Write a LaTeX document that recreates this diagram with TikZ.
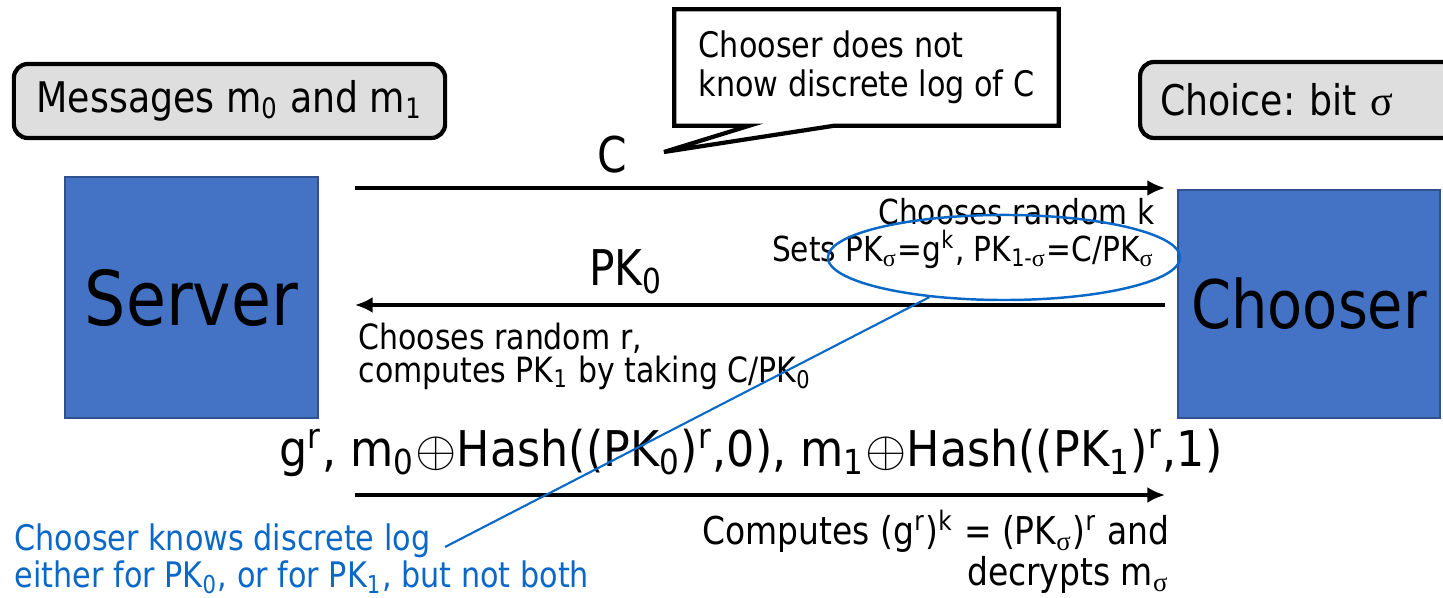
\documentclass[tikz,border=0pt]{standalone}
\usepackage{graphicx}
\usepackage{fontspec}
\setmainfont{DejaVu Sans}[FakeStretch=0.86]
\newfontfamily\greekserif{Liberation Serif}
\usetikzlibrary{arrows.meta,shapes.geometric,calc}
\frenchspacing

\definecolor{boxblue}{HTML}{4472C4}
\definecolor{boxedge}{HTML}{2F528F}
\definecolor{notegray}{HTML}{DEDEDE}
\definecolor{noteblue}{HTML}{0A68C8}

\tikzset{
  party/.style={draw=boxedge, line width=0.6pt, fill=boxblue, minimum width=2.53cm, minimum height=2.41cm},
  secret/.style={draw, rounded corners=0.14cm, line width=1.2pt, fill=notegray},
  msg/.style={-{Latex[length=5pt,width=4.5pt]}, line width=0.9pt},
  body/.style={font=\fontsize{9.8}{10.5}\selectfont, inner sep=0pt},
  big/.style={font=\fontsize{14}{16}\selectfont, inner sep=0pt},
  hint/.style={noteblue, line width=0.6pt},
}

\newcommand{\sgm}{{\greekserif σ}}
\newcommand{\sg}{\textsubscript{\sgm}}

\begin{document}
\begin{tikzpicture}[x=0.01cm, y=-0.01cm]
  \useasboundingbox (0,0) rectangle (1443,598);
  % Parties
  \node[party, font=\fontsize{21.5}{24}\selectfont] (server) at (191.5,297.5) {Server};
  \node[party, minimum width=2.62cm, minimum height=2.28cm, font=\fontsize{19}{24}\selectfont] (chooser) at (1309,304) {Chooser};
  % Inputs
  \node[secret, minimum width=4.31cm, minimum height=0.74cm, font=\fontsize{12}{14}\selectfont] (msgs) at (229.5,101) {Messages m\textsubscript{0} and m\textsubscript{1}};
  \node[secret, anchor=west, text width=2.8cm, inner xsep=0.2cm, minimum height=0.76cm, align=left, font=\fontsize{12}{14}\selectfont] (choice) at (1138,100) {Choice: bit \sgm};
  % Callout
  \node[font=\fontsize{10}{11}\selectfont, align=left, minimum width=3.83cm, minimum height=1.15cm] (callout) at (866.5,67.5) {Chooser does not\\know discrete log of C};
  \coordinate (tip) at (664,152);
  \draw[line width=1.2pt] (callout.south west) |- (callout.north east) |- ($(callout.south west)+(160,0)$) -- (tip) -- ($(callout.south west)+(75,0)$) -- cycle;
  % Messages
  \coordinate (s1) at (355,188);
  \coordinate (c1) at (1165,188);
  \coordinate (s2) at (355,305);
  \coordinate (c2) at (1165,305);
  \coordinate (s3) at (355,495);
  \coordinate (c3) at (1165,495);
  \draw[msg] (s1) -- (c1);
  \node[big] (clabel) at (612,155) {C};
  \draw[msg] (c2) -- (s2);
  \node[big] (pklabel) at (626,272) {PK\textsubscript{0}};
  \draw[msg] (s3) -- (c3);
  \node[big] (reply) at (751,453) {\resizebox{9.42cm}{\height}{g\textsuperscript{r}, m\textsubscript{0}$\oplus$Hash((PK\textsubscript{0})\textsuperscript{r},0), m\textsubscript{1}$\oplus$Hash((PK\textsubscript{1})\textsuperscript{r},1)}};
  % Notes
  \node[body, anchor=east, align=right] (kset) at (1155,233.5) {Chooses random k\\Sets PK\sg=g\textsuperscript{k}, PK\textsubscript{1-\sgm}=C/PK\sg};
  \node[body, anchor=west, align=left, font=\fontsize{9.9}{9.4}\selectfont] (rset) at (358,356) {Chooses random r,\\computes PK\textsubscript{1} by taking C/PK\textsubscript{0}};
  \node[body, anchor=east, align=right, font=\fontsize{10.9}{10}\selectfont] (decrypt) at (1170,552) {Computes (g\textsuperscript{r})\textsuperscript{k} = (PK\sg)\textsuperscript{r} and\\decrypts m\sg};
  \node[body, anchor=west, align=left, text=noteblue, font=\fontsize{10}{10.5}\selectfont] (knows) at (14,559) {Chooser knows discrete log\\either for PK\textsubscript{0}, or for PK\textsubscript{1}, but not both};
  \node[draw=noteblue, line width=0.7pt, ellipse, minimum width=3.52cm, minimum height=0.85cm, inner sep=0pt] (ring) at (1004,257.5) {};
  \coordinate (kx) at (445,547);
  \draw[hint] (kx) -- (ring.208);
\end{tikzpicture}
\end{document}
